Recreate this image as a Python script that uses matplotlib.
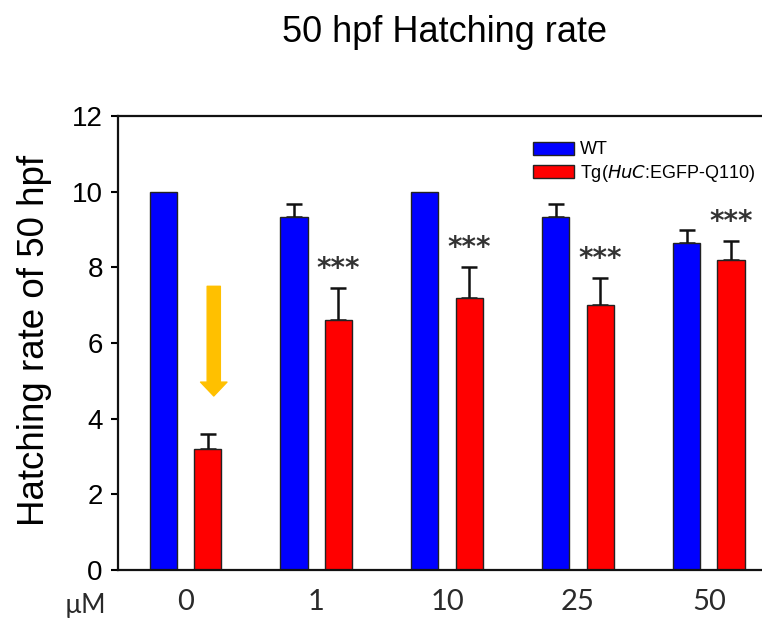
import matplotlib
matplotlib.use("Agg")
import matplotlib.pyplot as plt
import numpy as np

# ------------------- DATA -------------------
doses = ["0", "1", "10", "25", "50"]
wt_mean = [10.0, 9.33, 10.0, 9.33, 8.65]
wt_err = [0.0, 0.35, 0.0, 0.35, 0.35]
tg_mean = [3.2, 6.6, 7.2, 7.0, 8.2]
tg_err = [0.4, 0.85, 0.8, 0.72, 0.5]
stars = ["", "***", "***", "***", "***"]

# ------------------- FIGURE -------------------
fig = plt.figure(figsize=(7.62, 6.21), dpi=100)
ax = fig.add_axes([0.155, 0.0821, 0.861, 0.731])

x = np.arange(len(doses))
width = 0.207
off = 0.17

ax.bar(x - off, wt_mean, width, color="#0000FF", edgecolor="#222222", linewidth=1,
       label="WT", zorder=2)
ax.bar(x + off, tg_mean, width, color="#FF0000", edgecolor="#222222", linewidth=1,
       label="Tg($\\it{HuC}$:EGFP-Q110)", zorder=2)

# upper error bars, skipped where SEM is zero
for pos, mean, err in [(x - off, wt_mean, wt_err), (x + off, tg_mean, tg_err)]:
    m = np.array(err) > 0
    ax.errorbar(pos[m], np.array(mean)[m], yerr=[np.zeros(m.sum()), np.array(err)[m]],
                fmt="none", ecolor="#111111", elinewidth=1.8, capsize=6, capthick=1.8,
                zorder=1)

# significance stars
for i, s in enumerate(stars):
    if s:
        ax.text(x[i] + off, tg_mean[i] + tg_err[i] + 0.5, s, ha="center", va="center",
                fontsize=20, fontweight="bold", color="#333333", family="DejaVu Sans")

# orange arrow pointing at the 0 uM Tg bar
ax.annotate("", xy=(0.217, 4.6), xytext=(0.217, 7.5),
            arrowprops=dict(arrowstyle="simple,head_length=10,head_width=19,tail_width=9.5",
                            mutation_scale=1, color="#FFC000", shrinkA=0, shrinkB=0))

ax.set_xlim(-0.514, 4.5)
ax.set_ylim(0, 12)
ax.set_yticks(np.arange(0, 13, 2))
ax.set_xticks(x)
ax.set_xticklabels(doses, family="Lato", fontsize=21, color="#2a2a2a")
ax.tick_params(axis="x", length=0, pad=14)
ax.tick_params(axis="y", direction="out", length=5, width=1.5, pad=6, labelsize=20)
for lab in ax.get_yticklabels():
    lab.set_family("Liberation Sans")

ax.spines["right"].set_visible(False)
for sp in ["left", "top", "bottom"]:
    ax.spines[sp].set_linewidth(1.6)
    ax.spines[sp].set_color("#111111")

leg = ax.legend(loc="upper right", bbox_to_anchor=(0.99, 0.972), frameon=False,
                prop=dict(family="Liberation Sans", size=13), handlelength=2.25,
                handleheight=0.75, handletextpad=0.3, labelspacing=0.25, borderpad=0.2)

fig.text(445 / 762, 1 - 33 / 621, "50 hpf Hatching rate", ha="center", va="center",
         fontsize=26, family="Liberation Sans")
fig.text(35 / 762, 1 - 340 / 621, "Hatching rate of 50 hpf", ha="center", va="center",
         rotation=90, fontsize=26.5, family="Liberation Sans")
fig.text(85 / 762, 1 - 606 / 621, "µM", ha="center", va="center",
         fontsize=19, family="Lato", color="#2a2a2a")

fig.savefig("out.png", dpi=100)
